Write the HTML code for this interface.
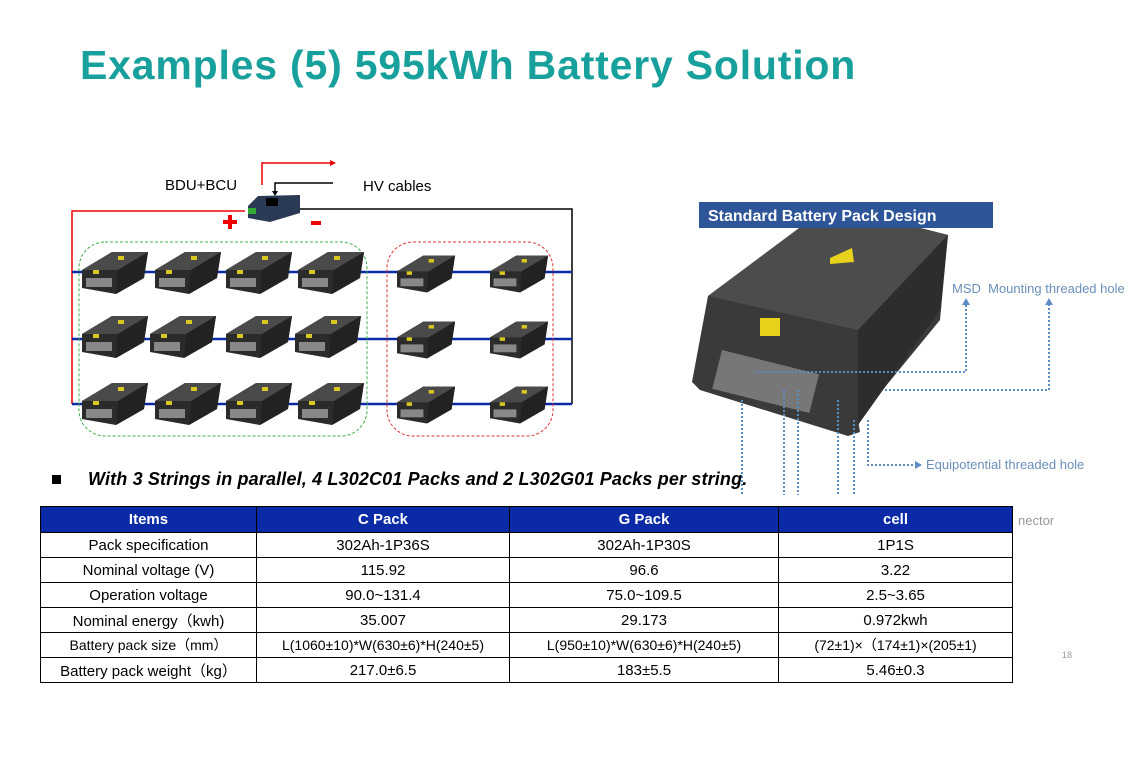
<!DOCTYPE html>
<html><head><meta charset="utf-8"><style>
body{margin:0;width:1136px;height:778px;background:#fff;position:relative;overflow:hidden;font-family:"Liberation Sans",sans-serif}
.t{position:absolute;white-space:nowrap}
table{position:absolute;left:40px;top:506px;border-collapse:collapse;font-size:15px}
td,th{border:1px solid #000;text-align:center;padding:0;height:24px}
th{background:#0a2aa6;color:#fff;font-weight:bold;height:25px}
</style></head><body>
<div class="t" style="left:80px;top:42px;font-size:41px;font-weight:bold;color:#17a09c;letter-spacing:0.8px">Examples (5) 595kWh Battery Solution</div>

<svg width="1136" height="778" style="position:absolute;left:0;top:0">
<defs>
<g id="pk">
<polygon points="0,22 30,4 66,4 62,30 34,46 0,40" fill="#2b2b2b"/>
<polygon points="0,22 30,4 66,4 36,22" fill="#4a4a4a"/>
<polygon points="36,22 66,4 62,30 34,46" fill="#222"/>
<rect x="4" y="30" width="26" height="9" fill="#888"/>
<rect x="11" y="22" width="6" height="4" fill="#d8c820"/>
<rect x="36" y="8" width="6" height="4" fill="#d8c820"/>
</g>
<g id="pk2" transform="scale(0.88)"><use href="#pk"/></g>
</defs>
<polyline points="262,185 262,163 330,163" fill="none" stroke="#e00" stroke-width="1.5"/>
<polygon points="330,160 336,163 330,166" fill="#e00"/>
<polyline points="333,183 275,183 275,192" fill="none" stroke="#000" stroke-width="1.5"/>
<polygon points="272,191 278,191 275,196" fill="#000"/>
<polyline points="245,211 72,211 72,404" fill="none" stroke="#e00" stroke-width="1.5"/>
<polyline points="300,209 572,209 572,404" fill="none" stroke="#000" stroke-width="1.5"/>
<g stroke="#0a2aa6" stroke-width="2.5"><line x1="72" y1="272" x2="572" y2="272"/><line x1="72" y1="339" x2="572" y2="339"/><line x1="72" y1="404" x2="572" y2="404"/></g>
<polygon points="248,206 258,196 300,195 300,213 270,222 248,218" fill="#2a3a55"/>
<rect x="266" y="198" width="12" height="8" fill="#000"/>
<rect x="248" y="208" width="8" height="6" fill="#3a3"/>
<rect x="223" y="220" width="14" height="4" fill="#e00"/><rect x="228" y="215" width="4" height="14" fill="#e00"/>
<rect x="311" y="221" width="10" height="4" fill="#e00"/>
<rect x="79" y="242" width="288" height="194" rx="26" fill="none" stroke="#3cae4a" stroke-dasharray="3,2"/>
<rect x="387" y="242" width="166" height="194" rx="26" fill="none" stroke="#d33" stroke-dasharray="3,2"/>
<g>
<use href="#pk" x="82" y="248"/><use href="#pk" x="155" y="248"/><use href="#pk" x="226" y="248"/><use href="#pk" x="298" y="248"/>
<use href="#pk" x="82" y="312"/><use href="#pk" x="150" y="312"/><use href="#pk" x="226" y="312"/><use href="#pk" x="295" y="312"/>
<use href="#pk" x="82" y="379"/><use href="#pk" x="155" y="379"/><use href="#pk" x="226" y="379"/><use href="#pk" x="298" y="379"/>
<use href="#pk2" x="397" y="252"/><use href="#pk2" x="490" y="252"/>
<use href="#pk2" x="397" y="318"/><use href="#pk2" x="490" y="318"/>
<use href="#pk2" x="397" y="383"/><use href="#pk2" x="490" y="383"/>
</g>
<polygon points="708,296 830,205 948,235 940,320 858,420 860,432 848,436 700,390 692,382" fill="#3a3a3a"/>
<polygon points="708,296 830,205 948,235 858,330" fill="#4c4c4c"/>
<polygon points="858,330 948,235 940,310 858,425" fill="#2d2d2d"/>
<rect x="722" y="350" width="100" height="40" fill="#777" transform="rotate(14 722 350)"/>
<polygon points="830,258 852,248 854,262 830,264" fill="#e8d21c"/>
<rect x="760" y="318" width="20" height="18" fill="#e8d21c"/>
<g fill="none" stroke="#5b8cc4" stroke-width="2" stroke-dasharray="2,2">
<polyline points="755,372 966,372 966,305"/>
<polyline points="885,390 1049,390 1049,305"/>
<line x1="742" y1="400" x2="742" y2="495"/><line x1="784" y1="390" x2="784" y2="495"/><line x1="798" y1="390" x2="798" y2="495"/><line x1="838" y1="400" x2="838" y2="495"/><line x1="854" y1="420" x2="854" y2="495"/>
<polyline points="868,420 868,465 915,465"/>
</g>
<polygon points="962,305 970,305 966,298" fill="#5b8cc4"/><polygon points="1045,305 1053,305 1049,298" fill="#5b8cc4"/>
<polygon points="915,461 922,465 915,469" fill="#5b8cc4"/>
<rect x="699" y="202" width="294" height="26" fill="#2e5597"/>
<rect x="52" y="475" width="9" height="9" fill="#000"/>
</svg>

<div class="t" style="left:165px;top:177px;font-size:15px">BDU+BCU</div>
<div class="t" style="left:363px;top:178px;font-size:15px">HV cables</div>
<div class="t" style="left:708px;top:208px;font-size:16px;font-weight:bold;color:#fff">Standard Battery Pack Design</div>
<div class="t" style="left:952px;top:281px;font-size:13px;color:#6a8fb8">MSD &nbsp;Mounting threaded hole</div>
<div class="t" style="left:926px;top:457px;font-size:13px;color:#6a8fb8">Equipotential threaded hole</div>
<div class="t" style="left:1018px;top:513px;font-size:13px;color:#999">nector</div>
<div class="t" style="left:1062px;top:650px;font-size:9px;color:#999">18</div>
<div class="t" style="left:88px;top:469px;font-size:18px;font-weight:bold;font-style:italic;letter-spacing:0.15px">With 3 Strings in parallel, 4 L302C01 Packs and 2 L302G01 Packs per string.</div>

<table>
<tr><th style="width:215px">Items</th><th style="width:252px">C Pack</th><th style="width:268px">G Pack</th><th style="width:233px">cell</th></tr>
<tr><td>Pack specification</td><td>302Ah-1P36S</td><td>302Ah-1P30S</td><td>1P1S</td></tr>
<tr><td>Nominal voltage (V)</td><td>115.92</td><td>96.6</td><td>3.22</td></tr>
<tr><td>Operation voltage</td><td>90.0~131.4</td><td>75.0~109.5</td><td>2.5~3.65</td></tr>
<tr><td>Nominal energy（kwh)</td><td>35.007</td><td>29.173</td><td>0.972kwh</td></tr>
<tr><td style="font-size:14px">Battery pack size（mm）</td><td style="font-size:14px">L(1060±10)*W(630±6)*H(240±5)</td><td style="font-size:14px">L(950±10)*W(630±6)*H(240±5)</td><td style="font-size:14px">(72±1)×（174±1)×(205±1)</td></tr>
<tr><td>Battery pack weight（kg）</td><td>217.0±6.5</td><td>183±5.5</td><td>5.46±0.3</td></tr>
</table>
</body></html>
